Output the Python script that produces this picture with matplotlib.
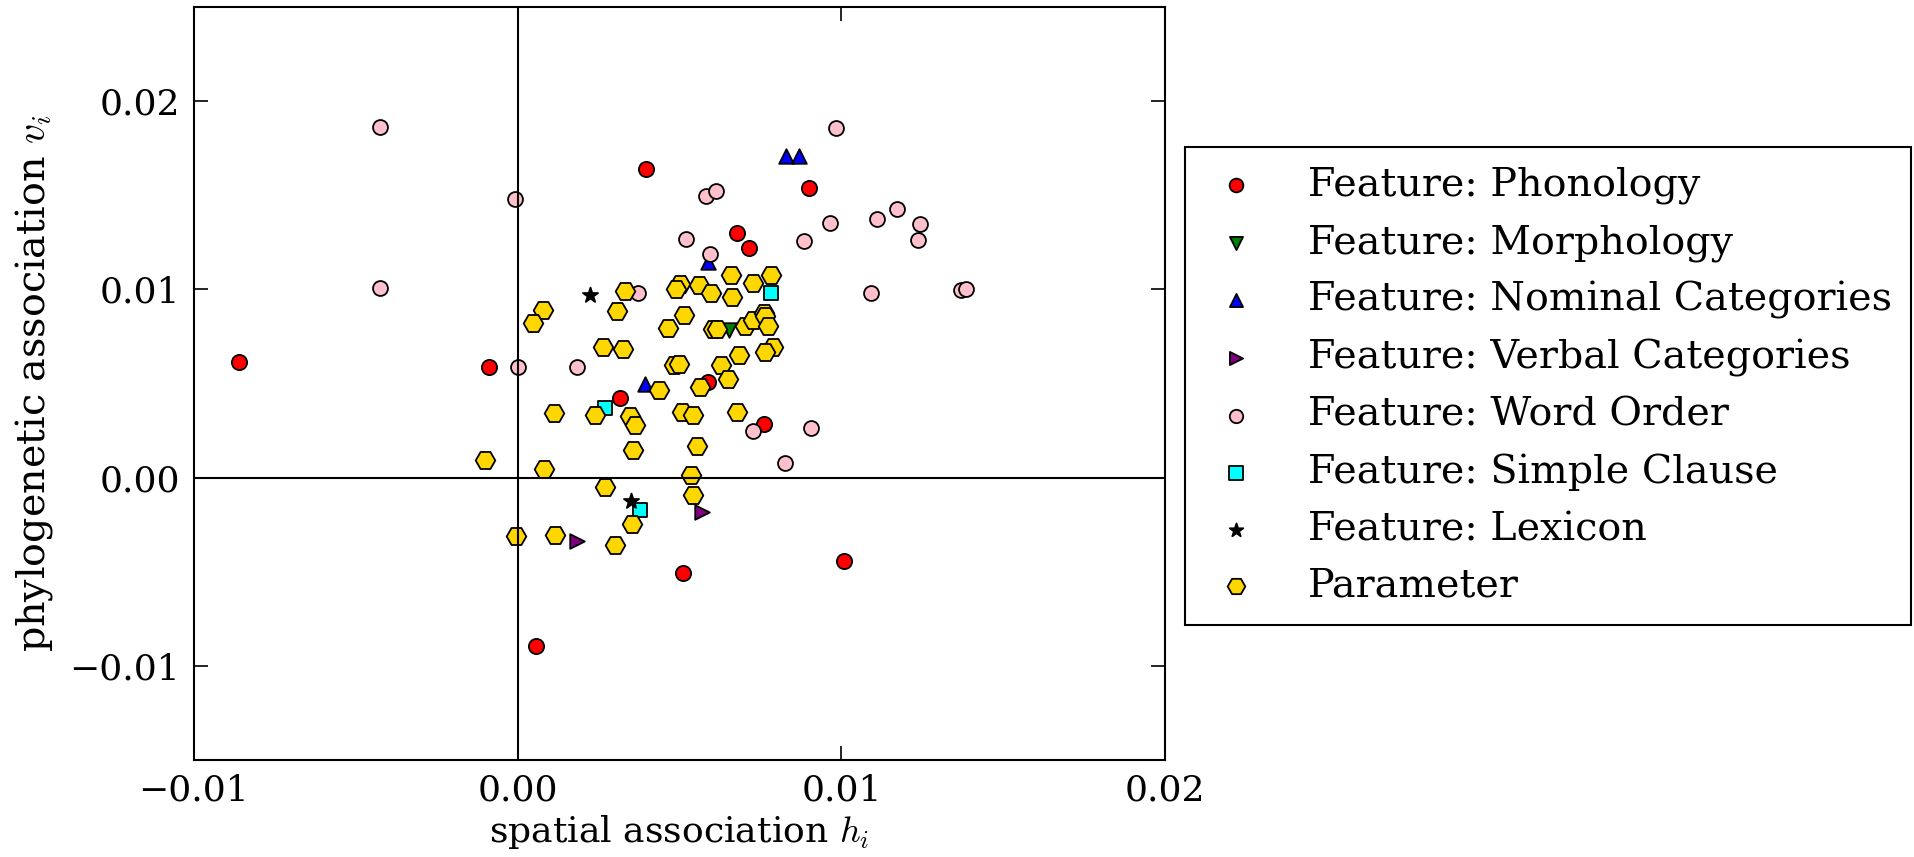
import numpy as np
import matplotlib
matplotlib.use("Agg")
import matplotlib.pyplot as plt

plt.rcParams['font.family'] = ['DejaVu Serif']
plt.rcParams['mathtext.fontset'] = 'cm'

# (h_i, v_i)
phon_h = [0.00397, -0.0086, -0.0009, 0.00315, 0.0090, 0.00679, 0.00714, 0.00587, 0.0076, 0.0051, 0.00058, 0.01007]
phon_v = [0.0164, 0.00613, 0.00587, 0.00425, 0.01536, 0.01301, 0.01218, 0.00507, 0.00286, -0.00504, -0.00892, -0.00441]

morph_h = [0.00654]
morph_v = [0.00782]

nom_h = [0.00829, 0.00868, 0.00587, 0.00394]
nom_v = [0.01706, 0.01706, 0.01145, 0.00495]

verb_h = [0.00184, 0.0057]
verb_v = [-0.00335, -0.00182]

word_h = [-0.00424, -0.00007, 0.0052, -0.00424, 0.0, 0.00184, 0.00373, 0.00984, 0.00582, 0.00613,
          0.01172, 0.01111, 0.00966, 0.01243, 0.01237, 0.00886, 0.00594, 0.01093, 0.01369, 0.01385,
          0.00726, 0.00906, 0.00827]
word_v = [0.01863, 0.01479, 0.01266, 0.01005, 0.00587, 0.00589, 0.00982, 0.01855, 0.01496, 0.01521,
          0.01429, 0.01372, 0.01355, 0.01348, 0.01264, 0.01257, 0.0119, 0.00979, 0.00996, 0.01004,
          0.00246, 0.00261, 0.00078]

clause_h = [0.00784, 0.00271, 0.00379]
clause_v = [0.00979, 0.00371, -0.0017]

lex_h = [0.00222, 0.00351]
lex_v = [0.0097, -0.00126]

param_h = [0.00078, 0.00047, 0.00333, 0.00308, 0.00263, 0.00325, 0.00465, 0.00502, 0.00488, 0.00515,
           0.00483, 0.00498, 0.00438, 0.00658, 0.00726, 0.00783, 0.0056, 0.00596, 0.00663, 0.00603,
           0.00616, 0.00703, 0.00726, 0.00762, 0.00765, 0.00772, 0.0079, 0.00765, 0.00683, 0.00629,
           0.00651, 0.00564, 0.0024, 0.00111, 0.00346, 0.00361, 0.00507, 0.00543, 0.00679, 0.00553,
           0.00357, -0.001, 0.0008, 0.00271, 0.00354, -0.00004, 0.00116, 0.00302, 0.00536, 0.00541]
param_v = [0.00888, 0.00823, 0.00989, 0.00883, 0.00695, 0.00681, 0.00796, 0.01027, 0.01004, 0.00862,
           0.00596, 0.00605, 0.00464, 0.01074, 0.01034, 0.01074, 0.01021, 0.00982, 0.00959, 0.00791,
           0.00787, 0.00805, 0.00835, 0.00876, 0.00858, 0.00805, 0.00695, 0.00667, 0.00654, 0.00596,
           0.00525, 0.0048, 0.00333, 0.00344, 0.00326, 0.00277, 0.00349, 0.00335, 0.00351, 0.00167,
           0.00145, 0.00096, 0.00046, -0.00052, -0.00245, -0.00312, -0.00303, -0.00356, 0.00016, -0.00094]

fig = plt.figure(figsize=(19.15, 8.57), dpi=100)
ax = fig.add_axes([0.1013, 0.1132, 0.5071, 0.8786])

ax.axhline(0, color='k', lw=1.5)
ax.axvline(0, color='k', lw=1.5)

kw = dict(edgecolors='k', linewidths=1.3)
ax.scatter(phon_h, phon_v, s=120, marker='o', c='red', label='Feature: Phonology', **kw)
ax.scatter(morph_h, morph_v, s=110, marker='v', c='green', label='Feature: Morphology', **kw)
ax.scatter(nom_h, nom_v, s=110, marker='^', c='blue', label='Feature: Nominal Categories', **kw)
ax.scatter(verb_h, verb_v, s=110, marker='>', c='purple', label='Feature: Verbal Categories', **kw)
ax.scatter(word_h, word_v, s=115, marker='o', c='pink', label='Feature: Word Order', **kw)
ax.scatter(clause_h, clause_v, s=110, marker='s', c='cyan', label='Feature: Simple Clause', **kw)
ax.scatter(lex_h, lex_v, s=130, marker='*', c='k', label='Feature: Lexicon', **kw)
ax.scatter(param_h, param_v, s=200, marker='H', c='gold', label='Parameter', **kw)

ax.set_xlim(-0.01, 0.02)
ax.set_ylim(-0.015, 0.025)
ax.set_xticks([-0.01, 0.0, 0.01, 0.02])
ax.set_yticks([-0.01, 0.0, 0.01, 0.02])
ax.tick_params(direction='in', length=10, width=1.2, top=True, right=True, labelsize=26, pad=10)
for sp in ax.spines.values():
    sp.set_linewidth(1.5)

ax.set_xlabel('spatial association $h_i$', fontsize=26)
ax.set_ylabel('phylogenetic association $v_i$', fontsize=28.5, labelpad=10)

leg = ax.legend(loc='upper left', bbox_to_anchor=(1185 / 1915, 1 - 147 / 857),
                bbox_transform=fig.transFigure, borderaxespad=0, fontsize=28.5,
                scatterpoints=1, fancybox=False, framealpha=1, edgecolor='k',
                labelspacing=0.5, handlelength=1.6, handletextpad=1.0, borderpad=0.5,
                markerscale=0.9)
leg.get_frame().set_linewidth(1.5)

fig.savefig('out.png', dpi=100)
